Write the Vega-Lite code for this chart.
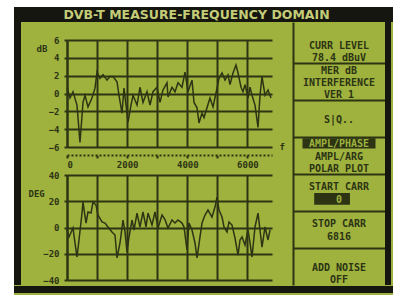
{
  "$schema": "https://vega.github.io/schema/vega-lite/v6.json",
  "padding": 0,
  "background": "#9fb23e",
  "config": {
    "view": {"stroke": null},
    "concat": {"spacing": 0},
    "axis": {
      "labelFont": "DejaVu Sans Mono", "labelFontWeight": "bold", "labelColor": "#2c3414", "labelFontSize": 9,
      "titleFont": "DejaVu Sans Mono", "titleFontWeight": "bold", "titleColor": "#2c3414", "titleFontSize": 9,
      "gridColor": "#2c3414", "gridOpacity": 1, "gridWidth": 2,
      "domainColor": "#2c3414", "domainWidth": 2, "tickColor": "#2c3414", "tickWidth": 2
    }
  },
  "datasets": {
    "blank": [{}],
    "title": [{"text": "DVB-T MEASURE-FREQUENCY DOMAIN"}],
    "magnitude": [
      {"carrier":0,"level":0.7},{"carrier":100,"level":-0.5},{"carrier":200,"level":0.2},{"carrier":332,"level":-1.3},{"carrier":432,"level":-5.5},{"carrier":532,"level":-1.0},{"carrier":599,"level":-0.2},{"carrier":698,"level":-1.5},{"carrier":831,"level":-0.5},{"carrier":931,"level":0.6},{"carrier":998,"level":2.4},{"carrier":1097,"level":1.7},{"carrier":1197,"level":2.1},{"carrier":1330,"level":1.5},{"carrier":1430,"level":1.9},{"carrier":1530,"level":1.9},{"carrier":1663,"level":1.3},{"carrier":1729,"level":-0.2},{"carrier":1829,"level":-2.2},{"carrier":1895,"level":0.6},{"carrier":1962,"level":-1.3},{"carrier":2028,"level":-3.2},{"carrier":2128,"level":-1.3},{"carrier":2195,"level":-0.2},{"carrier":2328,"level":-1.3},{"carrier":2427,"level":0.7},{"carrier":2527,"level":-1.0},{"carrier":2660,"level":0.2},{"carrier":2760,"level":-1.3},{"carrier":2860,"level":0.2},{"carrier":2993,"level":0.7},{"carrier":3092,"level":-1.0},{"carrier":3192,"level":0.4},{"carrier":3325,"level":1.2},{"carrier":3358,"level":-0.4},{"carrier":3491,"level":0.7},{"carrier":3591,"level":0.2},{"carrier":3691,"level":1.2},{"carrier":3824,"level":0.7},{"carrier":3924,"level":2.4},{"carrier":4023,"level":0.2},{"carrier":4156,"level":1.5},{"carrier":4223,"level":-1.0},{"carrier":4323,"level":-1.6},{"carrier":4389,"level":-3.3},{"carrier":4489,"level":-2.2},{"carrier":4555,"level":-2.7},{"carrier":4655,"level":-1.6},{"carrier":4755,"level":-0.5},{"carrier":4855,"level":-1.5},{"carrier":4988,"level":0.6},{"carrier":5054,"level":1.7},{"carrier":5154,"level":2.3},{"carrier":5254,"level":1.5},{"carrier":5353,"level":2.1},{"carrier":5420,"level":1.0},{"carrier":5520,"level":2.3},{"carrier":5619,"level":3.2},{"carrier":5686,"level":2.3},{"carrier":5786,"level":0.7},{"carrier":5852,"level":0.2},{"carrier":5919,"level":1.0},{"carrier":6018,"level":-0.5},{"carrier":6085,"level":0.7},{"carrier":6151,"level":-0.2},{"carrier":6251,"level":-1.3},{"carrier":6351,"level":-3.8},{"carrier":6417,"level":-0.2},{"carrier":6484,"level":1.9},{"carrier":6584,"level":-0.2},{"carrier":6683,"level":0.4},{"carrier":6783,"level":-0.5}
    ],
    "phase": [
      {"carrier":0,"phase":-1.9},{"carrier":67,"phase":-7.2},{"carrier":200,"phase":-0.4},{"carrier":266,"phase":-11.8},{"carrier":332,"phase":-22.5},{"carrier":399,"phase":-9.5},{"carrier":499,"phase":11},{"carrier":532,"phase":19.4},{"carrier":632,"phase":3.4},{"carrier":698,"phase":11.8},{"carrier":798,"phase":11},{"carrier":865,"phase":19.4},{"carrier":964,"phase":17.1},{"carrier":1031,"phase":9.5},{"carrier":1164,"phase":4.2},{"carrier":1264,"phase":3.4},{"carrier":1363,"phase":0.4},{"carrier":1496,"phase":-3.4},{"carrier":1596,"phase":-5.7},{"carrier":1663,"phase":-23.2},{"carrier":1762,"phase":-11.8},{"carrier":1862,"phase":5.7},{"carrier":1929,"phase":-3.4},{"carrier":1995,"phase":-18.7},{"carrier":2062,"phase":-7.2},{"carrier":2161,"phase":5.7},{"carrier":2228,"phase":-1.9},{"carrier":2328,"phase":11},{"carrier":2427,"phase":0.4},{"carrier":2527,"phase":11.8},{"carrier":2627,"phase":0.4},{"carrier":2693,"phase":11},{"carrier":2826,"phase":1.9},{"carrier":2926,"phase":11.8},{"carrier":3026,"phase":-0.4},{"carrier":3159,"phase":9.5},{"carrier":3259,"phase":6},{"carrier":3358,"phase":-0.4},{"carrier":3491,"phase":5.7},{"carrier":3591,"phase":3.4},{"carrier":3691,"phase":5.7},{"carrier":3824,"phase":3.4},{"carrier":3890,"phase":0.4},{"carrier":3990,"phase":-17.1},{"carrier":4057,"phase":3.4},{"carrier":4156,"phase":-1.9},{"carrier":4256,"phase":-11.8},{"carrier":4323,"phase":-23.2},{"carrier":4422,"phase":-7.2},{"carrier":4489,"phase":3.4},{"carrier":4589,"phase":9.5},{"carrier":4688,"phase":13.3},{"carrier":4821,"phase":8},{"carrier":4921,"phase":15.6},{"carrier":4988,"phase":23.2},{"carrier":5054,"phase":13.3},{"carrier":5154,"phase":8},{"carrier":5220,"phase":0.4},{"carrier":5320,"phase":-3.4},{"carrier":5387,"phase":4.2},{"carrier":5486,"phase":1.9},{"carrier":5586,"phase":-8},{"carrier":5686,"phase":-21},{"carrier":5752,"phase":-9.5},{"carrier":5819,"phase":-7.2},{"carrier":5919,"phase":-13.3},{"carrier":6018,"phase":-1.9},{"carrier":6085,"phase":-11.8},{"carrier":6151,"phase":-22.5},{"carrier":6251,"phase":0.4},{"carrier":6351,"phase":11},{"carrier":6417,"phase":-1.9},{"carrier":6484,"phase":-14.9},{"carrier":6584,"phase":0.4},{"carrier":6683,"phase":-9.5},{"carrier":6750,"phase":-1.9}
    ],
    "menu": [
      {"box":1,"pos":3,"label":"CURR LEVEL","hl":0},
      {"box":1,"pos":5,"label":"78.4 dBuV","hl":0},
      {"box":2,"pos":1,"label":"MER dB","hl":0},
      {"box":2,"pos":3,"label":"INTERFERENCE","hl":0},
      {"box":2,"pos":5,"label":"VER 1","hl":0},
      {"box":3,"pos":3,"label":"S|Q..","hl":0},
      {"box":4,"pos":1,"label":"AMPL/PHASE","hl":1},
      {"box":4,"pos":3,"label":"AMPL/ARG","hl":0},
      {"box":4,"pos":5,"label":"POLAR PLOT","hl":0},
      {"box":5,"pos":2,"label":"START CARR","hl":0},
      {"box":5,"pos":4,"label":"0","hl":1},
      {"box":6,"pos":2,"label":"STOP CARR","hl":0},
      {"box":6,"pos":4,"label":"6816","hl":0},
      {"box":7,"pos":3,"label":"ADD  NOISE","hl":0},
      {"box":7,"pos":5,"label":"OFF","hl":0}
    ]
  },
  "spacing": 0,
  "bounds": "full",
  "hconcat": [
    {"data": {"name": "blank"}, "mark": {"type": "point", "opacity": 0}, "width": 14, "height": 295, "view": {"fill": "#ffffff"}},
    {
      "spacing": 0,
      "bounds": "full",
      "vconcat": [
        {"data": {"name": "blank"}, "mark": {"type": "point", "opacity": 0}, "width": 379, "height": 7, "view": {"fill": "#ffffff"}},
        {
          "data": {"name": "title"},
          "width": 379, "height": 15,
          "view": {"fill": "#15160f"},
          "mark": {"type": "text", "font": "DejaVu Sans", "fontWeight": "bold", "fontSize": 12.5, "color": "#c4cc78", "dx": -7},
          "encoding": {"text": {"field": "text"}}
        },
        {
          "spacing": 0,
          "bounds": "full",
          "hconcat": [
            {"data": {"name": "blank"}, "mark": {"type": "point", "opacity": 0}, "width": 7, "height": 263, "view": {"fill": "#15160f"}},
            {"data": {"name": "blank"}, "mark": {"type": "point", "opacity": 0}, "width": 7, "height": 263},
            {
              "spacing": 0,
              "bounds": "flush",
              "vconcat": [
                {"data": {"name": "blank"}, "mark": {"type": "point", "opacity": 0}, "width": 226, "height": 18},
                {
                  "data": {"name": "magnitude"},
                  "width": 205, "height": 107,
                  "mark": {"type": "line", "color": "#2c3414", "strokeWidth": 1.5},
                  "encoding": {
                    "x": {"field": "carrier", "type": "quantitative", "scale": {"domain": [0, 6816], "nice": false, "zero": false},
                      "axis": {"orient": "bottom", "offset": 8, "values": [0,1000,2000,3000,4000,5000,6000], "grid": true,
                        "domainDash": [2, 2], "tickSize": 3, "labelPadding": 2, "format": "d",
                        "labelExpr": "datum.value % 2000 == 0 ? datum.label : ''",
                        "title": "f", "titleAnchor": "end", "titleX": 212, "titleY": -4, "titleAlign": "left", "titleBaseline": "bottom"}},
                    "y": {"field": "level", "type": "quantitative", "scale": {"domain": [-6, 6], "nice": false},
                      "axis": {"values": [-6,-4,-2,0,2,4,6], "grid": true, "tickSize": 3, "labelPadding": 5,
                        "title": "dB", "titleAngle": 0, "titleX": -31, "titleY": 8, "titleAlign": "left", "titleBaseline": "middle"}}
                  }
                },
                {"data": {"name": "blank"}, "mark": {"type": "point", "opacity": 0}, "width": 205, "height": 28},
                {
                  "data": {"name": "phase"},
                  "width": 205, "height": 105,
                  "mark": {"type": "line", "color": "#2c3414", "strokeWidth": 1.5},
                  "encoding": {
                    "x": {"field": "carrier", "type": "quantitative", "scale": {"domain": [0, 6816], "nice": false, "zero": false},
                      "axis": {"orient": "bottom", "values": [0,1000,2000,3000,4000,5000,6000], "grid": true, "labels": false, "ticks": false, "domain": false, "title": null}},
                    "y": {"field": "phase", "type": "quantitative", "scale": {"domain": [-40, 40], "nice": false},
                      "axis": {"values": [-40,-20,0,20,40], "grid": true, "tickSize": 3, "labelPadding": 5,
                        "title": "DEG", "titleAngle": 0, "titleX": -39, "titleY": 18, "titleAlign": "left", "titleBaseline": "middle"}}
                  }
                },
                {"data": {"name": "blank"}, "mark": {"type": "point", "opacity": 0}, "width": 205, "height": 5}
              ]
            },
            {
              "data": {"name": "menu"},
              "width": 92, "height": 263,
              "encoding": {
                "y": {"field": "box", "type": "ordinal",
                  "scale": {"domain": [1,2,3,4,5,6,7], "paddingInner": 0, "paddingOuter": 0.06, "align": 1},
                  "axis": {"values": [2,3,4,5,6,7], "grid": true, "bandPosition": 0, "labels": false, "ticks": false, "domain": true, "title": null}},
                "yOffset": {"field": "pos", "type": "ordinal", "scale": {"domain": [0,1,2,3,4,5,6], "paddingInner": 0, "paddingOuter": 0}}
              },
              "layer": [
                {
                  "transform": [{"filter": "datum.hl == 1"}],
                  "mark": {"type": "point", "filled": true, "opacity": 1, "color": "#2c3414", "size": 5329, "dy": 1},
                  "encoding": {
                    "shape": {"condition": {"test": "datum.box == 5", "value": "M-0.68,-0.16H0.3V0.16H-0.68Z"}, "value": "M-1,-0.14H1V0.14H-1Z"}
                  }
                },
                {
                  "mark": {"type": "text", "font": "DejaVu Sans Mono", "fontWeight": "bold", "fontSize": 10, "dy": 1},
                  "encoding": {
                    "text": {"field": "label"},
                    "color": {"condition": {"test": "datum.hl == 1", "value": "#9fb23e"}, "value": "#2c3414"}
                  }
                }
              ]
            },
            {"data": {"name": "blank"}, "mark": {"type": "point", "opacity": 0}, "width": 6, "height": 263, "view": {"fill": "#15160f"}}
          ]
        },
        {"data": {"name": "blank"}, "mark": {"type": "point", "opacity": 0}, "width": 379, "height": 7, "view": {"fill": "#15160f"}},
        {"data": {"name": "blank"}, "mark": {"type": "point", "opacity": 0}, "width": 379, "height": 3, "view": {"fill": "#ffffff"}}
      ]
    }
  ]
}
